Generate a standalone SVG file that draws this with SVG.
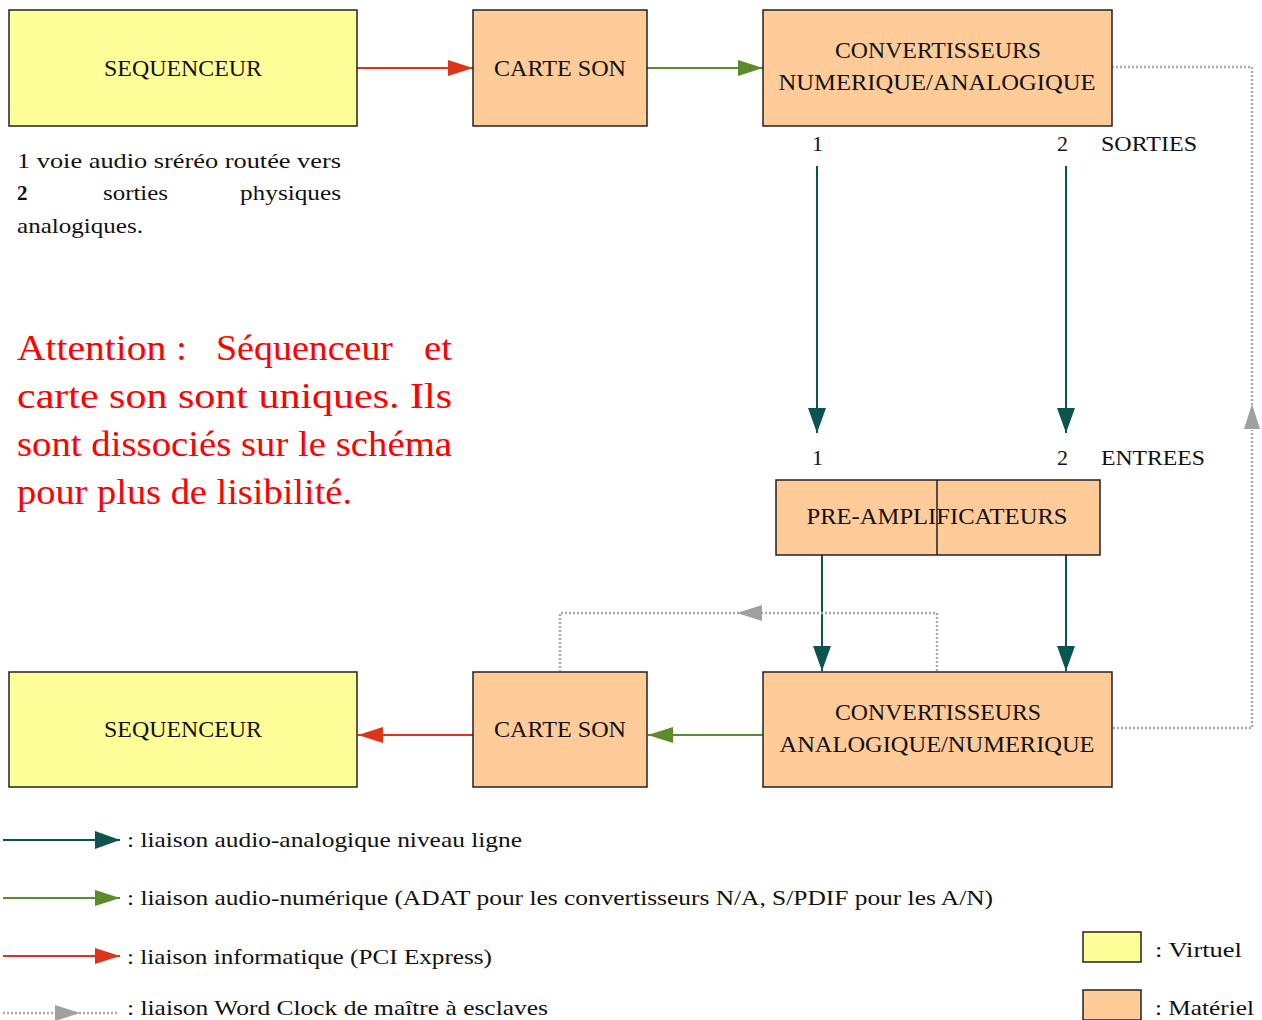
<svg xmlns="http://www.w3.org/2000/svg" width="1262" height="1020" viewBox="0 0 1262 1020">
<defs>
<style>
text{font-family:"Liberation Serif","DejaVu Serif",serif;fill:#111}
.box{stroke:#222;stroke-width:1.5}
.v{fill:#ffff99}
.m{fill:#ffcc99}
.lbl{font-size:23px;text-anchor:middle}
.teal{stroke:#0b5450;stroke-width:2;fill:none}
.green{stroke:#5b8c2a;stroke-width:2;fill:none}
.red{stroke:#e03418;stroke-width:2;fill:none}
.dot{stroke:#aaaaaa;stroke-width:2.5;stroke-dasharray:2 2;fill:none}
.leg{font-size:21px}
.att{font-size:35px;fill:#ff0000}
.note{font-size:21px}
</style>
<marker id="aTeal" markerUnits="userSpaceOnUse" markerWidth="26" markerHeight="20" refX="25" refY="9" orient="auto"><path d="M0,0 L25,9 L0,18 z" fill="#0b5450"/></marker>
<marker id="aGreen" markerUnits="userSpaceOnUse" markerWidth="26" markerHeight="18" refX="25" refY="8" orient="auto"><path d="M0,0 L25,8 L0,16 z" fill="#5b8c2a"/></marker>
<marker id="aRed" markerUnits="userSpaceOnUse" markerWidth="26" markerHeight="18" refX="25" refY="8" orient="auto"><path d="M0,0 L25,8 L0,16 z" fill="#e03418"/></marker>
<marker id="aGray" markerUnits="userSpaceOnUse" markerWidth="26" markerHeight="18" refX="25" refY="8" orient="auto"><path d="M0,0 L25,8 L0,16 z" fill="#a0a0a0"/></marker>
</defs>
<rect width="1262" height="1020" fill="#ffffff"/>

<g id="connectors">
<line class="red" x1="357" y1="68" x2="473" y2="68" marker-end="url(#aRed)"/>
<line class="green" x1="647" y1="68" x2="763" y2="68" marker-end="url(#aGreen)"/>
<line class="teal" x1="817" y1="166" x2="817" y2="433" marker-end="url(#aTeal)"/>
<line class="teal" x1="1066" y1="166" x2="1066" y2="433" marker-end="url(#aTeal)"/>
<line class="teal" x1="822" y1="555" x2="822" y2="671" marker-end="url(#aTeal)"/>
<line class="teal" x1="1066" y1="555" x2="1066" y2="671" marker-end="url(#aTeal)"/>
<line class="green" x1="763" y1="735" x2="648" y2="735" marker-end="url(#aGreen)"/>
<line class="red" x1="473" y1="735" x2="358" y2="735" marker-end="url(#aRed)"/>
<path class="dot" d="M1113,728 L1252,728 L1252,430"/>
<line x1="1252" y1="432" x2="1252" y2="404" stroke="none" marker-end="url(#aGray)"/>
<path class="dot" d="M1252,405 L1252,67 L1113,67"/>
<path class="dot" d="M937,671 L937,613 L737,613 L560,613 L560,671"/>
<line x1="762" y1="613" x2="737" y2="613" stroke="none" marker-end="url(#aGray)"/>
</g>

<g id="sequenceur-top"><rect class="box v" x="9" y="10" width="348" height="116"/><text class="lbl" x="183" y="76" textLength="158" lengthAdjust="spacingAndGlyphs">SEQUENCEUR</text></g>
<g id="carte-son-top"><rect class="box m" x="473" y="10" width="174" height="116"/><text class="lbl" x="560" y="76" textLength="132" lengthAdjust="spacingAndGlyphs">CARTE SON</text></g>
<g id="conv-na"><rect class="box m" x="763" y="10" width="349" height="116"/><text class="lbl" x="938" y="58" textLength="206" lengthAdjust="spacingAndGlyphs">CONVERTISSEURS</text><text class="lbl" x="937" y="90" textLength="317" lengthAdjust="spacingAndGlyphs">NUMERIQUE/ANALOGIQUE</text></g>
<g id="preamp"><rect class="box m" x="776" y="480" width="324" height="75"/><line x1="937" y1="480" x2="937" y2="555" stroke="#222" stroke-width="1.5"/><text class="lbl" x="937" y="524" textLength="261" lengthAdjust="spacingAndGlyphs">PRE-AMPLIFICATEURS</text></g>
<g id="sequenceur-bottom"><rect class="box v" x="9" y="672" width="348" height="115"/><text class="lbl" x="183" y="737" textLength="158" lengthAdjust="spacingAndGlyphs">SEQUENCEUR</text></g>
<g id="carte-son-bottom"><rect class="box m" x="473" y="672" width="174" height="115"/><text class="lbl" x="560" y="737" textLength="132" lengthAdjust="spacingAndGlyphs">CARTE SON</text></g>
<g id="conv-an"><rect class="box m" x="763" y="672" width="349" height="115"/><text class="lbl" x="938" y="720" textLength="206" lengthAdjust="spacingAndGlyphs">CONVERTISSEURS</text><text class="lbl" x="937" y="752" textLength="315" lengthAdjust="spacingAndGlyphs">ANALOGIQUE/NUMERIQUE</text></g>

<g id="port-labels" style="font-size:22px">
<text x="812" y="151">1</text><text x="1057" y="151">2</text><text x="1101" y="151" textLength="96" lengthAdjust="spacingAndGlyphs">SORTIES</text>
<text x="812" y="465">1</text><text x="1057" y="465">2</text><text x="1101" y="465" textLength="104" lengthAdjust="spacingAndGlyphs">ENTREES</text>
</g>

<g id="note">
<text class="note" x="17" y="168" textLength="324" lengthAdjust="spacingAndGlyphs">1 voie audio sréréo routée  vers</text>
<text class="note" x="17" y="200" font-weight="bold">2</text>
<text class="note" x="103" y="200" textLength="65" lengthAdjust="spacingAndGlyphs">sorties</text>
<text class="note" x="240" y="200" textLength="101" lengthAdjust="spacingAndGlyphs">physiques</text>
<text class="note" x="17" y="233" textLength="126" lengthAdjust="spacingAndGlyphs">analogiques.</text>
</g>

<g id="attention">
<text class="att" x="17" y="360" textLength="170" lengthAdjust="spacingAndGlyphs">Attention :</text>
<text class="att" x="216" y="360" textLength="177" lengthAdjust="spacingAndGlyphs">Séquenceur</text>
<text class="att" x="424" y="360" textLength="28" lengthAdjust="spacingAndGlyphs">et</text>
<text class="att" x="17" y="408" textLength="435" lengthAdjust="spacingAndGlyphs">carte son sont uniques. Ils</text>
<text class="att" x="17" y="456" textLength="435" lengthAdjust="spacingAndGlyphs">sont dissociés sur le schéma</text>
<text class="att" x="17" y="504" textLength="335" lengthAdjust="spacingAndGlyphs">pour plus de lisibilité.</text>
</g>

<g id="legend">
<line class="teal" x1="3" y1="840" x2="120" y2="840" marker-end="url(#aTeal)"/>
<text class="leg" x="127" y="847" textLength="395" lengthAdjust="spacingAndGlyphs">: liaison audio-analogique niveau ligne</text>
<line class="green" x1="3" y1="898" x2="120" y2="898" marker-end="url(#aGreen)"/>
<text class="leg" x="127" y="905" textLength="866" lengthAdjust="spacingAndGlyphs">: liaison audio-numérique (ADAT pour les convertisseurs N/A, S/PDIF pour les A/N)</text>
<line class="red" x1="3" y1="956" x2="120" y2="956" marker-end="url(#aRed)"/>
<text class="leg" x="127" y="964" textLength="365" lengthAdjust="spacingAndGlyphs">: liaison informatique (PCI Express)</text>
<path class="dot" d="M3,1013 L118,1013"/>
<line x1="55" y1="1013" x2="80" y2="1013" stroke="none" marker-end="url(#aGray)"/>
<text class="leg" x="127" y="1015" textLength="421" lengthAdjust="spacingAndGlyphs">: liaison Word Clock de maître à esclaves</text>
<rect class="box v" x="1083" y="932" width="58" height="30"/>
<text class="leg" x="1155" y="957" textLength="87" lengthAdjust="spacingAndGlyphs">: Virtuel</text>
<rect class="box m" x="1083" y="990" width="58" height="30"/>
<text class="leg" x="1155" y="1015" textLength="99" lengthAdjust="spacingAndGlyphs">: Matériel</text>
</g>
</svg>
